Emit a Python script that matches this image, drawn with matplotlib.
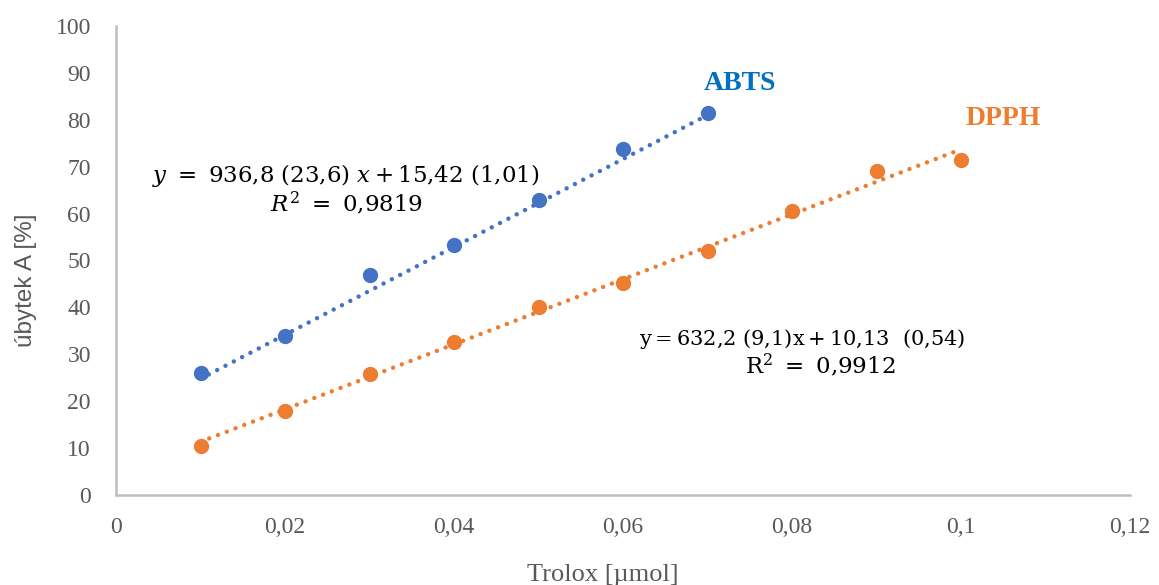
import matplotlib
matplotlib.use("Agg")
import matplotlib.pyplot as plt
import numpy as np

abts_x = [0.01, 0.02, 0.03, 0.04, 0.05, 0.06, 0.07]
abts_y = [26.0, 33.9, 46.9, 53.3, 62.9, 73.7, 81.5]
dpph_x = [0.01, 0.02, 0.03, 0.04, 0.05, 0.06, 0.07, 0.08, 0.09, 0.10]
dpph_y = [10.5, 17.9, 25.8, 32.7, 40.1, 45.2, 52.0, 60.6, 69.1, 71.4]
abts_fit = (936.8, 15.42)
xticks = [0, 0.02, 0.04, 0.06, 0.08, 0.1, 0.12]
xtick_labels = ["0", "0,02", "0,04", "0,06", "0,08", "0,1", "0,12"]
yticks = list(range(0, 101, 10))

blue = "#4472C4"
orange = "#ED7D31"
grey = "#595959"

plt.rcParams["mathtext.fontset"] = "dejavuserif"
fig = plt.figure(figsize=(11.59, 5.85), dpi=100)
ax = fig.add_axes([116/1159, 1 - 495/585, (1130-116)/1159, (495-26)/585])

ax.plot(abts_x, abts_y, "o", color=blue, ms=10, zorder=3)
ax.plot(dpph_x, dpph_y, "o", color=orange, ms=10, zorder=3)
dot = dict(lw=3.2, ls=(0, (0.01, 2.1)), dash_capstyle="round", zorder=2)
xa = np.array([abts_x[0], abts_x[-1]])
ax.plot(xa, abts_fit[0]*xa + abts_fit[1], color=blue, **dot)
k, q = np.polyfit(dpph_x, dpph_y, 1)
xd = np.array([dpph_x[0], dpph_x[-1]])
ax.plot(xd, k*xd + q, color=orange, **dot)

ax.set_xlim(0, 0.12)
ax.set_ylim(0, 100)
ax.set_xticks(xticks)
ax.set_xticklabels(xtick_labels)
ax.set_yticks(yticks)
for s in ["top", "right"]:
    ax.spines[s].set_visible(False)
for s in ["left", "bottom"]:
    ax.spines[s].set_color("#bfbfbf")
    ax.spines[s].set_linewidth(1.8)
ax.tick_params(length=0, labelsize=17, labelcolor=grey)
ax.tick_params(axis="y", pad=18)
ax.tick_params(axis="x", pad=16)
for lab in ax.get_xticklabels() + ax.get_yticklabels():
    lab.set_fontfamily("Liberation Serif")
ax.set_xlabel("Trolox [µmol]", fontsize=19, color=grey, family="Liberation Serif")
ax.xaxis.set_label_coords((603-116)/(1130-116), -(586-495)/469)
ax.xaxis.label.set_va("bottom")
ax.set_ylabel("úbytek A [%]", fontsize=17.5, color=grey, family="Liberation Sans")
ax.yaxis.set_label_coords(-(116-26)/(1130-116), (495-280)/469)
ax.yaxis.label.set_va("center")

ax.text(0.0738, 87.8, "ABTS", color="#0070C0", fontsize=20, fontweight="bold", family="Liberation Serif", ha="center", va="center")
ax.text(0.105, 80.2, "DPPH", color=orange, fontsize=20, fontweight="bold", family="Liberation Serif", ha="center", va="center")

ax.text(0.0272, 68.2, r"$y\ =\ 936{,}8\ (23{,}6)\ x+15{,}42\ (1{,}01)$", fontsize=16.5, ha="center", va="center")
ax.text(0.0273, 62.2, r"$R^2\ =\ 0{,}9819$", fontsize=16.5, ha="center", va="center")
ax.text(0.0812, 33.3, r"$\mathrm{y=632{,}2\ (9{,}1)x+10{,}13\ \ (0{,}54)}$", fontsize=15, ha="center", va="center")
ax.text(0.0833, 27.6, r"$\mathrm{R^2\ =\ 0{,}9912}$", fontsize=16.5, ha="center", va="center")

fig.savefig("out.png", dpi=100)
